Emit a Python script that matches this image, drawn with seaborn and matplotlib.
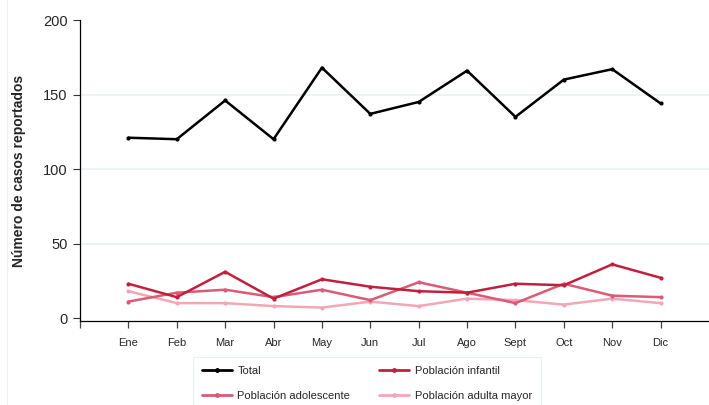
import pandas as pd
import numpy as np
import matplotlib.pyplot as plt
import seaborn as sns
from matplotlib.lines import Line2D

meses = ['Ene', 'Feb', 'Mar', 'Abr', 'May', 'Jun', 'Jul', 'Ago', 'Sept', 'Oct', 'Nov', 'Dic']
total = [121, 120, 146, 120, 168, 137, 145, 166, 135, 160, 167, 144]
infantil = [23, 14, 31, 13, 26, 21, 18, 17, 23, 22, 36, 27]
adolescente = [11, 17, 19, 14, 19, 12, 24, 17, 10, 23, 15, 14]
adulta_mayor = [18, 10, 10, 8, 7, 11, 8, 13, 12, 9, 13, 10]

series = {
    'Total': total,
    'Población infantil': infantil,
    'Población adolescente': adolescente,
    'Población adulta mayor': adulta_mayor,
}
colores = {
    'Total': '#000000',
    'Población infantil': '#C0203D',
    'Población adolescente': '#DA5A77',
    'Población adulta mayor': '#F2A7B6',
}

rows = []
for nombre, valores in series.items():
    for i, v in enumerate(valores):
        rows.append({'pos': i, 'casos': v, 'grupo': nombre})
df = pd.DataFrame(rows)

sns.set_style('white')
plt.rcParams['font.family'] = ['Liberation Sans', 'DejaVu Sans']

fig = plt.figure(figsize=(7.09, 4.05), dpi=100)
ax = fig.add_axes([80 / 709, 1 - 321 / 405, 629 / 709, 301 / 405])

# lower series first so Total sits on top
for nombre in ['Población adulta mayor', 'Población adolescente', 'Población infantil', 'Total']:
    sub = df[df['grupo'] == nombre]
    sns.lineplot(data=sub, x='pos', y='casos', color=colores[nombre], linewidth=1.8,
                 marker='o', markersize=3, markeredgewidth=0, ax=ax, legend=False)

ax.set_xlim(-1, 12)
ax.set_ylim(-2, 200)
ax.set_xticks(range(-1, 12))
ax.set_xticklabels([''] + meses, fontsize=8)
ax.set_yticks([0, 50, 100, 150, 200])
ax.set_yticklabels(['0', '50', '100', '150', '200'], fontsize=10.5)
ax.tick_params(axis='both', bottom=True, left=True, direction='out', length=5, width=0.8,
               color='#333333', pad=4)
ax.tick_params(axis='x', length=5, width=0.9, color='#444444', pad=7)
ax.set_xlabel('')
ax.set_ylabel('Número de casos reportados', fontsize=10, fontweight='bold', labelpad=12)

for y in [50, 100, 150]:
    ax.axhline(y, color='#EAF1F3', linewidth=1.2, zorder=0)

for s in ['top', 'right']:
    ax.spines[s].set_visible(False)
ax.spines['left'].set_color('#000000')
ax.spines['bottom'].set_color('#000000')
ax.spines['left'].set_linewidth(0.9)
ax.spines['bottom'].set_linewidth(0.9)

orden = ['Total', 'Población adolescente', 'Población infantil', 'Población adulta mayor']
handles = [Line2D([0], [0], color=colores[n], linewidth=2, marker='o', markersize=2.5) for n in orden]
leg = fig.legend(handles, orden, loc='upper left', bbox_to_anchor=(193 / 709, 1 - 357 / 405),
                 ncol=2, fontsize=8, frameon=True, fancybox=False, handlelength=2.7,
                 columnspacing=2.6, labelspacing=1.35, borderpad=0.8, handletextpad=0.5,
                 borderaxespad=0)
leg.get_frame().set_edgecolor('#E6ECEE')
leg.get_frame().set_linewidth(0.8)

fig.add_artist(Line2D([7 / 709, 7 / 709], [0, 1], color='#EEF2F3', linewidth=0.8))

fig.savefig('out.png', dpi=100)
